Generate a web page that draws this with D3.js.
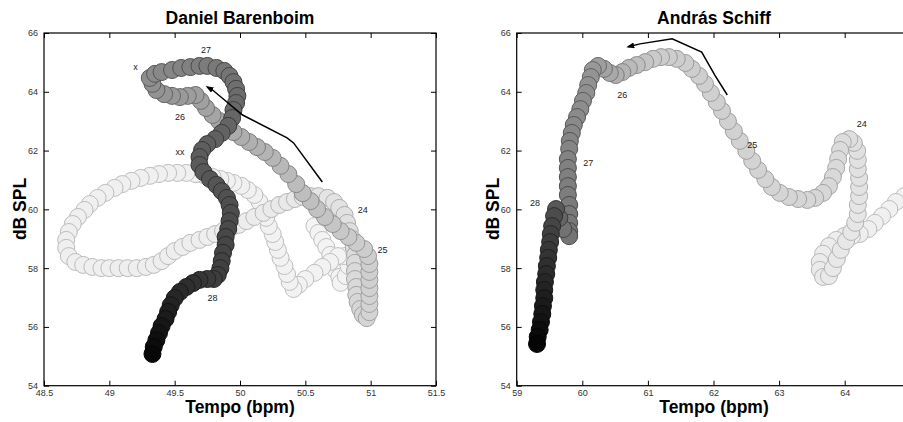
<!DOCTYPE html>
<html lang="en">
<head>
<meta charset="UTF-8">
<title>Performance worms</title>
<script src="https://cdn.jsdelivr.net/npm/d3@7"></script>
<style>
  body { margin: 0; background: #fff; }
  svg text { font-family: "Liberation Sans", Arial, sans-serif; }
</style>
</head>
<body>
<svg id="chart" width="903" height="422"></svg>
<script>
// worm trajectories, [tempo (bpm), loudness (dB SPL)], oldest first
var barenboimWorm = [
  [50.57,59.43],[50.60,59.20],[50.63,58.96],[50.66,58.72],[50.69,58.45],[50.71,58.21],[50.73,57.94],[50.76,57.70],[50.77,57.50],
  [50.81,57.73],[50.83,58.07],[50.80,58.41],
  [50.75,58.41],[50.69,58.21],[50.63,58.04],[50.57,57.84],[50.50,57.63],[50.45,57.43],[50.41,57.29],
  [50.38,57.53],[50.36,57.80],[50.34,58.07],[50.31,58.35],[50.29,58.62],[50.27,58.89],[50.25,59.16],[50.22,59.43],
  [50.20,59.71],[50.18,59.98],[50.15,60.25],[50.11,60.49],[50.06,60.66],[50.01,60.80],[49.95,60.90],
  [49.90,60.97],[49.85,61.03],[49.79,61.10],[49.72,61.17],[49.66,61.20],[49.59,61.24],[49.52,61.24],[49.45,61.24],
  [49.38,61.20],[49.31,61.14],[49.24,61.07],[49.17,60.97],[49.10,60.86],[49.04,60.73],[48.97,60.56],[48.91,60.39],
  [48.85,60.18],[48.81,59.98],[48.76,59.74],[48.72,59.50],[48.69,59.23],[48.67,58.96],[48.67,58.69],[48.69,58.41],[48.74,58.21],
  [48.80,58.11],[48.87,58.04],[48.94,58.00],[49.00,58.00],[49.07,58.00],[49.14,58.00],[49.21,58.00],[49.28,58.04],
  [49.34,58.11],[49.40,58.24],[49.45,58.41],[49.50,58.58],[49.56,58.72],[49.62,58.86],[49.69,58.96],[49.75,59.06],
  [49.81,59.16],[49.87,59.26],[49.93,59.37],[49.99,59.47],
  [50.05,59.60],[50.11,59.74],[50.18,59.88],[50.24,60.01],[50.30,60.15],[50.36,60.25],[50.42,60.35],[50.48,60.42],
  [50.54,60.45],[50.60,60.45],[50.67,60.39],[50.72,60.25],[50.76,60.05],[50.80,59.81],[50.82,59.54],[50.84,59.26],
  [50.86,58.99],[50.87,58.72],[50.88,58.45],[50.88,58.18],[50.88,57.90],[50.88,57.63],[50.89,57.36],[50.89,57.09],
  [50.90,56.85],[50.92,56.61],[50.94,56.41],[50.97,56.30],
  [50.99,56.50],[50.99,56.78],[50.99,57.05],[50.99,57.32],[50.99,57.60],[50.99,57.87],[50.99,58.14],[50.98,58.41],[50.95,58.65],
  [50.89,58.86],[50.83,59.06],[50.77,59.26],[50.71,59.50],[50.65,59.74],[50.59,60.01],[50.54,60.28],[50.48,60.55],
  [50.43,60.86],[50.37,61.20],[50.31,61.48],[50.25,61.75],[50.19,61.95],[50.13,62.12],[50.07,62.29],[50.01,62.46],
  [49.95,62.63],[49.89,62.80],[49.84,63.01],[49.79,63.21],[49.74,63.45],[49.70,63.69],[49.66,63.89],
  [49.60,63.86],[49.54,63.82],[49.48,63.86],[49.42,63.92],[49.36,64.06],[49.33,64.27],[49.31,64.47],[49.35,64.61],
  [49.40,64.67],[49.48,64.74],[49.55,64.81],[49.62,64.84],[49.69,64.88],[49.75,64.88],[49.82,64.81],[49.88,64.71],
  [49.92,64.54],[49.95,64.33],[49.97,64.10],
  [49.98,63.86],[49.97,63.62],[49.95,63.38],[49.94,63.11],[49.91,62.84],[49.86,62.60],[49.81,62.39],[49.75,62.22],
  [49.71,62.02],[49.69,61.78],[49.69,61.51],[49.72,61.27],[49.77,61.03],[49.82,60.83],[49.86,60.62],[49.90,60.39],
  [49.92,60.15],[49.93,59.88],[49.92,59.60],[49.91,59.33],[49.89,59.06],[49.89,58.79],[49.87,58.52],[49.86,58.24],
  [49.85,58.00],[49.83,57.77],
  [49.80,57.63],[49.75,57.63],[49.69,57.60],[49.64,57.49],[49.59,57.36],[49.54,57.19],[49.50,56.98],[49.47,56.74],
  [49.45,56.51],[49.43,56.27],[49.40,56.03],[49.38,55.79],[49.36,55.55],[49.34,55.32],[49.33,55.08]
];

var schiffWorm = [
  [65.03,60.59],[64.91,60.45],[64.78,60.25],[64.68,60.01],[64.57,59.77],[64.46,59.54],[64.36,59.33],[64.23,59.16],
  [64.11,59.09],[63.99,59.09],[63.87,58.96],[63.76,58.75],[63.67,58.49],[63.62,58.21],[63.62,57.94],[63.67,57.70],
  [63.76,57.73],[63.82,58.00],[63.88,58.31],[63.94,58.62],[64.02,58.92],[64.10,59.23],[64.16,59.54],[64.20,59.84],
  [64.20,60.15],[64.22,60.45],[64.22,60.76],[64.22,61.07],[64.20,61.37],[64.20,61.68],[64.19,61.99],
  [64.14,62.26],[64.07,62.39],[63.97,62.29],[63.93,62.02],[63.90,61.71],[63.87,61.41],[63.82,61.10],[63.76,60.79],[63.67,60.56],
  [63.55,60.39],[63.43,60.32],[63.29,60.35],[63.15,60.42],[63.01,60.56],[62.89,60.76],[62.79,61.03],[62.68,61.34],
  [62.59,61.65],[62.50,61.99],[62.40,62.33],[62.31,62.66],[62.22,63.00],[62.13,63.35],[62.05,63.65],[61.96,63.96],
  [61.87,64.27],[61.78,64.54],[61.67,64.78],[61.57,64.98],[61.44,65.12],[61.32,65.18],
  [61.20,65.18],[61.08,65.12],[60.96,65.01],[60.83,64.91],[60.71,64.81],[60.61,64.67],[60.51,64.57],[60.42,64.64],
  [60.33,64.78],[60.24,64.88],
  [60.16,64.74],[60.13,64.50],[60.09,64.23],[60.06,63.96],[60.01,63.69],[59.97,63.41],[59.92,63.14],[59.87,62.87],
  [59.84,62.60],[59.81,62.33],[59.80,62.06],[59.78,61.71],[59.78,61.41],[59.78,61.10],[59.78,60.79],[59.78,60.49],
  [59.80,60.15],[59.80,59.84],[59.80,59.54],[59.80,59.26],[59.80,59.09],
  [59.71,59.33],[59.65,59.71],[59.60,60.01],
  [59.57,59.77],[59.54,59.43],[59.52,59.16],[59.51,58.89],[59.49,58.62],[59.48,58.35],[59.46,58.07],[59.45,57.80],
  [59.43,57.53],[59.42,57.26],[59.42,56.98],[59.40,56.71],[59.39,56.44],[59.37,56.17],[59.35,55.90],[59.32,55.66],[59.31,55.42]
];

// direction arrows, tail to head
var barenboimArrow = [[50.63,60.93],[50.41,62.26],[50.36,62.43],[50.02,63.21],[49.79,64.06],[49.75,64.16]];
var schiffArrow = [[62.21,63.89],[62.02,64.57],[61.82,65.35],[61.37,65.80],[60.88,65.63],[60.70,65.53]];

// bar numbers and marks
var barenboimLabels = [
  {text: "27", t: 49.74, db: 65.42}, {text: "x", t: 49.20, db: 64.84}, {text: "26", t: 49.54, db: 63.14},
  {text: "xx", t: 49.54, db: 61.95}, {text: "24", t: 50.94, db: 59.98}, {text: "25", t: 51.09, db: 58.62},
  {text: "28", t: 49.79, db: 56.98}
];
var schiffLabels = [
  {text: "24", t: 64.26, db: 62.90}, {text: "25", t: 62.59, db: 62.19}, {text: "26", t: 60.61, db: 63.89},
  {text: "27", t: 60.09, db: 61.58}, {text: "28", t: 59.28, db: 60.21}
];

var barenboimTempoTicks = [48.5, 49, 49.5, 50, 50.5, 51, 51.5];
var schiffTempoTicks = [59, 60, 61, 62, 63, 64];
var dbTicks = [54, 56, 58, 60, 62, 64, 66];

var svg = d3.select("#chart");

svg.append("defs").append("marker")
    .attr("id", "head")
    .attr("markerUnits", "userSpaceOnUse")
    .attr("markerWidth", 8).attr("markerHeight", 6)
    .attr("refX", 6).attr("refY", 3)
    .attr("orient", "auto")
  .append("path")
    .attr("d", "M0,0 L8,3 L0,6 Z")
    .attr("fill", "#000");

function drawPanel(p) {
  var x = d3.scaleLinear().domain(p.xDomain).range(p.xRange);
  var y = d3.scaleLinear().domain([54, 66]).range([385.7, 33]);
  var g = svg.append("g");

  var n = p.worm.length - 1;
  var shade = d3.scaleLinear().domain(p.stops).range(p.levels).clamp(true);
  function grey(v) { var c = Math.round(v * 255); return d3.rgb(c, c, c).toString(); }

  g.selectAll("circle")
    .data(p.worm)
    .enter().append("circle")
    .attr("cx", function(d) { return x(d[0]); })
    .attr("cy", function(d) { return y(d[1]); })
    .attr("r", 8.5)
    .attr("fill", function(d, i) { return grey(shade(i / n)); })
    .attr("stroke", function(d, i) {
      var v = shade(i / n);
      return grey(v > 0.5 ? v - 0.2 : v * 0.6);
    })
    .attr("stroke-width", 1);

  g.append("path")
    .datum(p.arrow)
    .attr("d", d3.line().x(function(d) { return x(d[0]); }).y(function(d) { return y(d[1]); }))
    .attr("fill", "none")
    .attr("stroke", "#000")
    .attr("stroke-width", 1.5)
    .attr("marker-end", "url(#head)");

  g.selectAll(".lab")
    .data(p.labels)
    .enter().append("text")
    .attr("x", function(d) { return x(d.t); })
    .attr("y", function(d) { return y(d.db); })
    .attr("dy", "0.35em")
    .attr("text-anchor", "middle")
    .style("font-size", "9px")
    .style("fill", "#222")
    .text(function(d) { return d.text; });

  // box with inward ticks, matlab style
  var axes = [
    [d3.axisBottom(x).tickValues(p.xTicks).tickFormat(function(d) { return d; }), "translate(0,385.7)", 4],
    [d3.axisTop(x).tickValues(p.xTicks).tickFormat(""), "translate(0,33)", 4],
    [d3.axisLeft(y).tickValues(dbTicks).tickFormat(function(d) { return d; }), "translate(" + p.xRange[0] + ",0)", 6],
    [d3.axisRight(y).tickValues(dbTicks).tickFormat(""), "translate(" + p.xRange[1] + ",0)", 4]
  ];
  axes.forEach(function(a) {
    var ax = g.append("g").attr("transform", a[1])
      .call(a[0].tickSizeInner(-5).tickSizeOuter(0).tickPadding(a[2]));
    ax.select(".domain").remove();
    ax.selectAll("line").attr("stroke", "#000");
    ax.selectAll("text").style("font-size", "9px").style("fill", "#333")
      .style("font-family", "'Liberation Sans', Arial, sans-serif");
  });

  g.append("rect")
    .attr("x", p.xRange[0]).attr("y", 33)
    .attr("width", p.xRange[1] - p.xRange[0]).attr("height", 385.7 - 33)
    .attr("fill", "none").attr("stroke", "#000").attr("stroke-width", 1.2);

  g.append("text")
    .attr("x", p.titleX).attr("y", 24)
    .attr("text-anchor", "middle")
    .style("font-size", "17.5px").style("font-weight", "bold")
    .text(p.title);
  g.append("text")
    .attr("x", p.titleX).attr("y", 413)
    .attr("text-anchor", "middle")
    .style("font-size", "17.5px").style("font-weight", "bold")
    .text("Tempo (bpm)");
  g.append("text")
    .attr("transform", "translate(" + (p.xRange[0] - 18) + ",209) rotate(-90)")
    .attr("text-anchor", "middle")
    .style("font-size", "17.5px").style("font-weight", "bold")
    .text("dB SPL");
}

drawPanel({
  title: "Daniel Barenboim", titleX: 240,
  worm: barenboimWorm, arrow: barenboimArrow, labels: barenboimLabels,
  xDomain: [48.5, 51.5], xRange: [44, 436], xTicks: barenboimTempoTicks,
  stops: [0, 0.40, 0.48, 0.586, 0.70, 0.80, 0.93, 1],
  levels: [0.955, 0.93, 0.87, 0.80, 0.62, 0.42, 0.24, 0.03]
});

drawPanel({
  title: "András Schiff", titleX: 714,
  worm: schiffWorm, arrow: schiffArrow, labels: schiffLabels,
  xDomain: [59, 65], xRange: [516.7, 910.3], xTicks: schiffTempoTicks,
  stops: [0, 0.21, 0.36, 0.56, 0.65, 0.83, 0.86, 1],
  levels: [0.95, 0.9, 0.84, 0.8, 0.58, 0.45, 0.28, 0.02]
});
</script>
</body>
</html>
